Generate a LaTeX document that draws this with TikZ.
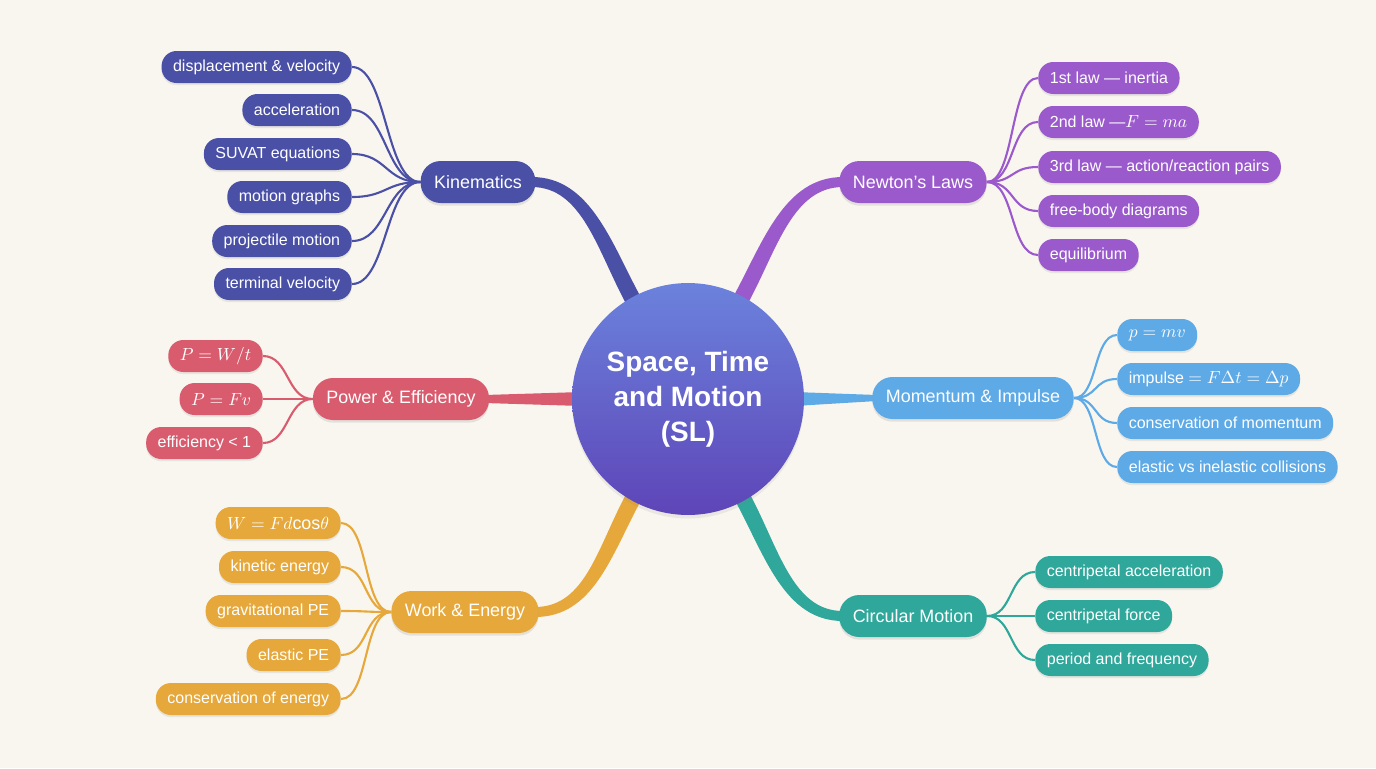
\documentclass[tikz,border=0pt]{standalone}
\usepackage{fontspec}
\setmainfont{Liberation Sans}
\usetikzlibrary{positioning, calc, shadows, backgrounds}

\definecolor{bgcream}{HTML}{F9F6F0}
\definecolor{kincol}{HTML}{4A50A6}
\definecolor{newtcol}{HTML}{9B5ACC}
\definecolor{powcol}{HTML}{D95C6E}
\definecolor{momcol}{HTML}{5EAAE6}
\definecolor{workcol}{HTML}{E6A83A}
\definecolor{circcol}{HTML}{2FA79A}
\definecolor{coretop}{HTML}{6B82DC}
\definecolor{corebot}{HTML}{5E45B8}

\newcommand{\fm}[1]{{\fontsize{10.2}{12}\selectfont$#1$}}

\begin{document}
\begin{tikzpicture}[
    x=0.02cm, y=-0.02cm,
    hub/.style={fill=#1, text=white, rounded corners=0.4cm, minimum height=0.84cm,
        inner xsep=0.27cm, font=\fontsize{10.2}{12}\selectfont,
        drop shadow={opacity=0.18, shadow xshift=0pt, shadow yshift=-1.5pt}},
    leaf/.style={fill=#1, text=white, rounded corners=0.3cm, minimum height=0.64cm,
        inner xsep=0.23cm, font=\fontsize{9.1}{10.8}\selectfont,
        drop shadow={opacity=0.15, shadow xshift=0pt, shadow yshift=-1.2pt}},
    twig/.style={draw=#1, line width=1.2pt}
]
\useasboundingbox (0,0) rectangle (1376,768);
\begin{scope}[on background layer]
\fill[bgcream] (0,0) rectangle (1376,768);
\end{scope}

% centre
\node[circle, minimum size=4.64cm, top color=coretop, bottom color=corebot, text=white,
      align=center, font=\bfseries\fontsize{15.9}{20}\selectfont,
      drop shadow={opacity=0.12, shadow xshift=0pt, shadow yshift=-2pt}]
      (core) at (688,399) {Space, Time\\and Motion\\(SL)};

% main branches
\node[hub=kincol] (kin) at (478,182) {Kinematics};
\node[hub=newtcol] (newton) at (913,182) {Newton’s Laws};
\node[hub=powcol] (power) at (401,399) {Power \& Efficiency};
\node[hub=momcol] (mom) at (973,398) {Momentum \& Impulse};
\node[hub=workcol] (work) at (465,612) {Work \& Energy};
\node[hub=circcol] (circ) at (913,616) {Circular Motion};

% Kinematics
\node[leaf=kincol, anchor=east] (kin1) at (352,67) {displacement \& velocity};
\node[leaf=kincol, anchor=east] (kin2) at (352,110) {acceleration};
\node[leaf=kincol, anchor=east] (kin3) at (352,154) {SUVAT equations};
\node[leaf=kincol, anchor=east] (kin4) at (352,197) {motion graphs};
\node[leaf=kincol, anchor=east] (kin5) at (352,241) {projectile motion};
\node[leaf=kincol, anchor=east] (kin6) at (352,284) {terminal velocity};

% Newton's Laws
\node[leaf=newtcol, anchor=west] (nl1) at (1038,78) {1st law — inertia};
\node[leaf=newtcol, anchor=west] (nl2) at (1038,122) {2nd law —\fm{F = ma}};
\node[leaf=newtcol, anchor=west] (nl3) at (1038,167) {3rd law — action/reaction pairs};
\node[leaf=newtcol, anchor=west] (nl4) at (1038,211) {free-body diagrams};
\node[leaf=newtcol, anchor=west] (nl5) at (1038,255) {equilibrium};

% Power & Efficiency
\node[leaf=powcol, anchor=east] (pw1) at (263,356) {\fm{P = W/t}};
\node[leaf=powcol, anchor=east] (pw2) at (263,399) {\fm{P = Fv}};
\node[leaf=powcol, anchor=east] (pw3) at (263,443) {efficiency < 1};

% Momentum & Impulse
\node[leaf=momcol, anchor=west] (mo1) at (1117,335) {\fm{p = mv}};
\node[leaf=momcol, anchor=west] (mo2) at (1117,379) {impulse \fm{= F\Delta t = \Delta p}};
\node[leaf=momcol, anchor=west] (mo3) at (1117,423) {conservation of momentum};
\node[leaf=momcol, anchor=west] (mo4) at (1117,467) {elastic vs inelastic collisions};

% Work & Energy
\node[leaf=workcol, anchor=east] (we1) at (341,523) {\fm{W = Fd\mathrm{cos}\theta}};
\node[leaf=workcol, anchor=east] (we2) at (341,567) {kinetic energy};
\node[leaf=workcol, anchor=east] (we3) at (341,611) {gravitational PE};
\node[leaf=workcol, anchor=east] (we4) at (341,655) {elastic PE};
\node[leaf=workcol, anchor=east] (we5) at (341,699) {conservation of energy};

% Circular Motion
\node[leaf=circcol, anchor=west] (cm1) at (1035,572) {centripetal acceleration};
\node[leaf=circcol, anchor=west] (cm2) at (1035,616) {centripetal force};
\node[leaf=circcol, anchor=west] (cm3) at (1035,660) {period and frequency};

% where the trunks meet the centre
\coordinate (kinjoin) at ($(core.center)!0.95!(core.119)$);
\coordinate (newtjoin) at ($(core.center)!0.95!(core.62)$);
\coordinate (workjoin) at ($(core.center)!0.95!(core.241)$);
\coordinate (circjoin) at ($(core.center)!0.95!(core.299)$);

\begin{scope}[on background layer]
% trunks, wider at the centre
\fill[kincol] ($(kin.east)+(-4,-5)$) .. controls +(59,0) and +(-30,-55) .. ($(kinjoin)+(7,-4)$)
    -- ($(kinjoin)+(-7,4)$) .. controls +(-30,-55) and +(51,0) .. ($(kin.east)+(-4,5)$) -- cycle;
\fill[newtcol] ($(newton.west)+(4,-5)$) .. controls +(-59,0) and +(30,-55) .. ($(newtjoin)+(-7,-4)$)
    -- ($(newtjoin)+(7,4)$) .. controls +(30,-55) and +(-51,0) .. ($(newton.west)+(4,5)$) -- cycle;
\fill[workcol] ($(work.east)+(-4,5)$) .. controls +(59,0) and +(-30,55) .. ($(workjoin)+(7,4)$)
    -- ($(workjoin)+(-7,-4)$) .. controls +(-30,55) and +(51,0) .. ($(work.east)+(-4,-5)$) -- cycle;
\fill[circcol] ($(circ.west)+(4,5)$) .. controls +(-59,0) and +(30,55) .. ($(circjoin)+(-7,4)$)
    -- ($(circjoin)+(7,-4)$) .. controls +(30,55) and +(-51,0) .. ($(circ.west)+(4,-5)$) -- cycle;
\fill[powcol] ($(power.east)+(-5,-4)$) -- ($(core.west)+(10,-7)$) -- ($(core.west)+(10,7)$) -- ($(power.east)+(-5,4)$) -- cycle;
\fill[momcol] ($(mom.west)+(5,-3)$) -- ($(core.east)+(-10,-7)$) -- ($(core.east)+(-10,7)$) -- ($(mom.west)+(5,3)$) -- cycle;

% twigs
\draw[twig=kincol] (kin.west) .. controls +(-35,0) and +(35,0) .. (kin1.east);
\draw[twig=kincol] (kin.west) .. controls +(-35,0) and +(35,0) .. (kin2.east);
\draw[twig=kincol] (kin.west) .. controls +(-35,0) and +(35,0) .. (kin3.east);
\draw[twig=kincol] (kin.west) .. controls +(-35,0) and +(35,0) .. (kin4.east);
\draw[twig=kincol] (kin.west) .. controls +(-35,0) and +(35,0) .. (kin5.east);
\draw[twig=kincol] (kin.west) .. controls +(-35,0) and +(35,0) .. (kin6.east);
\draw[twig=newtcol] (newton.east) .. controls +(28,0) and +(-28,0) .. (nl1.west);
\draw[twig=newtcol] (newton.east) .. controls +(28,0) and +(-28,0) .. (nl2.west);
\draw[twig=newtcol] (newton.east) .. controls +(28,0) and +(-28,0) .. (nl3.west);
\draw[twig=newtcol] (newton.east) .. controls +(28,0) and +(-28,0) .. (nl4.west);
\draw[twig=newtcol] (newton.east) .. controls +(28,0) and +(-28,0) .. (nl5.west);
\draw[twig=powcol] (power.west) .. controls +(-26,0) and +(26,0) .. (pw1.east);
\draw[twig=powcol] (power.west) .. controls +(-26,0) and +(26,0) .. (pw2.east);
\draw[twig=powcol] (power.west) .. controls +(-26,0) and +(26,0) .. (pw3.east);
\draw[twig=momcol] (mom.east) .. controls +(24,0) and +(-24,0) .. (mo1.west);
\draw[twig=momcol] (mom.east) .. controls +(24,0) and +(-24,0) .. (mo2.west);
\draw[twig=momcol] (mom.east) .. controls +(24,0) and +(-24,0) .. (mo3.west);
\draw[twig=momcol] (mom.east) .. controls +(24,0) and +(-24,0) .. (mo4.west);
\draw[twig=workcol] (work.west) .. controls +(-28,0) and +(28,0) .. (we1.east);
\draw[twig=workcol] (work.west) .. controls +(-28,0) and +(28,0) .. (we2.east);
\draw[twig=workcol] (work.west) .. controls +(-28,0) and +(28,0) .. (we3.east);
\draw[twig=workcol] (work.west) .. controls +(-28,0) and +(28,0) .. (we4.east);
\draw[twig=workcol] (work.west) .. controls +(-28,0) and +(28,0) .. (we5.east);
\draw[twig=circcol] (circ.east) .. controls +(26,0) and +(-26,0) .. (cm1.west);
\draw[twig=circcol] (circ.east) .. controls +(26,0) and +(-26,0) .. (cm2.west);
\draw[twig=circcol] (circ.east) .. controls +(26,0) and +(-26,0) .. (cm3.west);
\end{scope}

\end{tikzpicture}
\end{document}
